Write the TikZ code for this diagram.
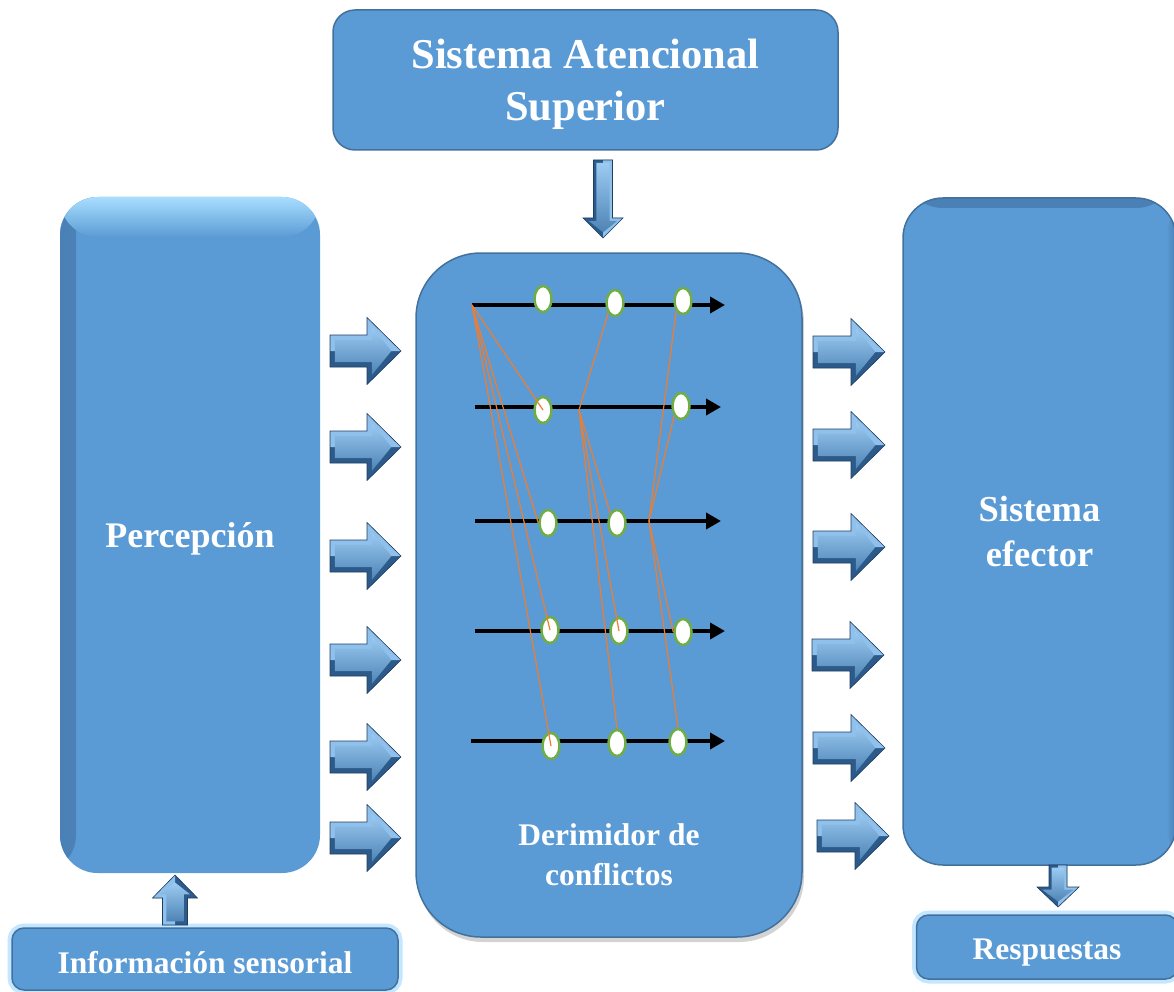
\documentclass[tikz,border=0pt]{standalone}
\usepackage{fontspec}
\setmainfont{Liberation Serif}
\usetikzlibrary{shapes.geometric,arrows.meta,shadows}

\definecolor{boxblue}{HTML}{5B9BD5}
\definecolor{boxline}{HTML}{41719C}
\definecolor{edgedark}{HTML}{4A80B5}
\definecolor{arrowdark}{HTML}{2C5A8A}
\definecolor{arrowlight}{HTML}{9CCBF2}
\definecolor{linkorange}{HTML}{ED7D31}
\definecolor{ovalgreen}{HTML}{70AD47}
\definecolor{glowblue}{HTML}{C4E6FF}
\definecolor{tophigh}{HTML}{A8DEFF}

\begin{document}
\begin{tikzpicture}[x=1pt,y=-1pt,
    block/.style={rectangle,fill=boxblue,draw=boxline,line width=1.5pt,text=white,
      font=\bfseries,align=center,inner sep=0pt},
    glow/.style={preaction={draw=glowblue,line width=9pt}},
    inner edge/.style={path picture={
        \shade[top color=edgedark,bottom color=boxblue]
          (path picture bounding box.north west) rectangle ([yshift=-10pt]path picture bounding box.north east);
        \shade[left color=boxblue,right color=edgedark]
          ([xshift=-10pt]path picture bounding box.north east) rectangle (path picture bounding box.south east);}},
    oval/.style={ellipse,fill=white,draw=ovalgreen,line width=2.5pt,
      minimum width=17pt,minimum height=26pt,inner sep=0pt},
    track/.style={line width=4pt,-{Triangle[length=15pt,width=16pt]}},
    link/.style={linkorange,line width=1.2pt},
    pics/barrow/.style n args={4}{code={
        % length, head length, half head width, half shaft width
        \pgfmathsetmacro\hb{#1-#2}
        \pgfmathsetmacro\ins{0.3*#4}
        \fill[arrowdark] (0,-#4) -- (\hb,-#4) -- (\hb,-#3) -- (#1,0) -- (\hb,#3) -- (\hb,#4) -- (0,#4) -- cycle;
        \fill[arrowlight!80!boxblue] (0,-#4) -- (\hb,-#4) -- (\hb,-#3) -- (#1,0) -- (0,0) -- cycle;
        \shade[top color=arrowlight,bottom color=boxblue!85!black]
          (\ins,-#4+\ins) -- (\hb+\ins,-#4+\ins) -- (\hb+\ins,-#3+2*\ins) -- (#1-2*\ins,0)
          -- (\hb+\ins,#3-2*\ins) -- (\hb+\ins,#4-\ins) -- (\ins,#4-\ins) -- cycle;
        \draw[arrowdark!70!black,line width=0.6pt]
          (0,-#4) -- (\hb,-#4) -- (\hb,-#3) -- (#1,0) -- (\hb,#3) -- (\hb,#4) -- (0,#4) -- cycle;
    }}]

    \useasboundingbox (0,0) rectangle (1174,992);

    % boxes
    \node[block,minimum width=505pt,minimum height=140pt,rounded corners=22pt,text depth=0pt,
      font=\bfseries\fontsize{42.5}{52}\selectfont] (sas) at (585.5,80) {Sistema Atencional\\Superior};
    \node[block,draw=none,minimum width=260pt,minimum height=676pt,rounded corners=38pt,
      text height=32pt,text depth=8pt,font=\bfseries\fontsize{36}{44}\selectfont,
      path picture={
        \shade[left color=edgedark,right color=boxblue]
          (path picture bounding box.north west) rectangle ([xshift=16pt]path picture bounding box.south west);
        \shade[top color=tophigh,bottom color=boxblue]
          (path picture bounding box.north west) rectangle ([yshift=-40pt]path picture bounding box.north east);}]
      (percep) at (190,535) {Percepción};
    \node[block,minimum width=386pt,minimum height=684pt,rounded corners=65pt,
      drop shadow={shadow xshift=2pt,shadow yshift=-5pt,opacity=0.35}] (derim) at (609,595) {};
    \node[text=white,font=\bfseries\fontsize{31.5}{40}\selectfont,align=center] (derimtxt) at (609,855)
      {Derimidor de\\conflictos};
    \node[block,inner edge,minimum width=273pt,minimum height=667pt,rounded corners=40pt,
      font=\bfseries\fontsize{36.5}{45}\selectfont] (efector) at (1039.5,531.5) {Sistema\\efector};
    \node[block,glow,minimum width=386pt,minimum height=62pt,rounded corners=12pt,
      text height=28pt,text depth=0pt,font=\bfseries\fontsize{31.5}{38}\selectfont] (info) at (205,959)
      {Información sensorial};
    \node[block,glow,minimum width=261pt,minimum height=64pt,rounded corners=12pt,
      text height=31pt,text depth=7pt,font=\bfseries\fontsize{31.5}{38}\selectfont] (resp) at (1047,947)
      {Respuestas};

    % block arrows
    \foreach \y in {351,447,556,660,757,838}
      \pic at (330,\y) {barrow={71}{34}{33.5}{16}};
    \foreach \x/\y in {813/352,813/445,813/547,812/655,813/748,817/836}
      \pic at (\x,\y) {barrow={72}{34}{33.5}{16}};
    \pic[rotate=-90] at (603,160) {barrow={78}{20}{20}{9.5}};
    \pic[rotate=90] at (175,925) {barrow={50}{23}{22.5}{12.5}};
    \pic[rotate=-90] at (1058,865) {barrow={42}{20}{21}{9}};

    % tracks
    \foreach \n/\ys/\xs/\xe in {1/305/472/725,2/407/475/721,3/521/475/721,4/631/475/725,5/741/471/725}{
      \coordinate (t\n s) at (\xs,\ys);
      \coordinate (t\n e) at (\xe,\ys);
      \draw[track] (t\n s) -- (t\n e);
    }

    \foreach \name/\x/\y in {o11/543/299,o12/615/303,o13/683/301,o21/543/410,o23/681/406,
        o31/548/523,o32/617/523,o41/550/630,o42/619/631,o43/683/632,
        o51/551/746,o52/617/743,o53/678/742}
      \node[oval] (\name) at (\x,\y) {};

    % links
    \coordinate (jb) at (579,410);
    \coordinate (jc) at (649,521);
    \path[link]
    (t1s) edge (o21.center)
          edge (o31.west)
          edge (o41.center)
          edge (o51.center)
    (o12.south west) edge (jb)
    (jb) edge (o32.north west)
         edge (o42.center)
         edge (o52.north)
    (o13.south west) edge (jc)
    (o23.south west) edge (jc)
    (jc) edge (o43.west)
         edge (o53.north);
\end{tikzpicture}
\end{document}
